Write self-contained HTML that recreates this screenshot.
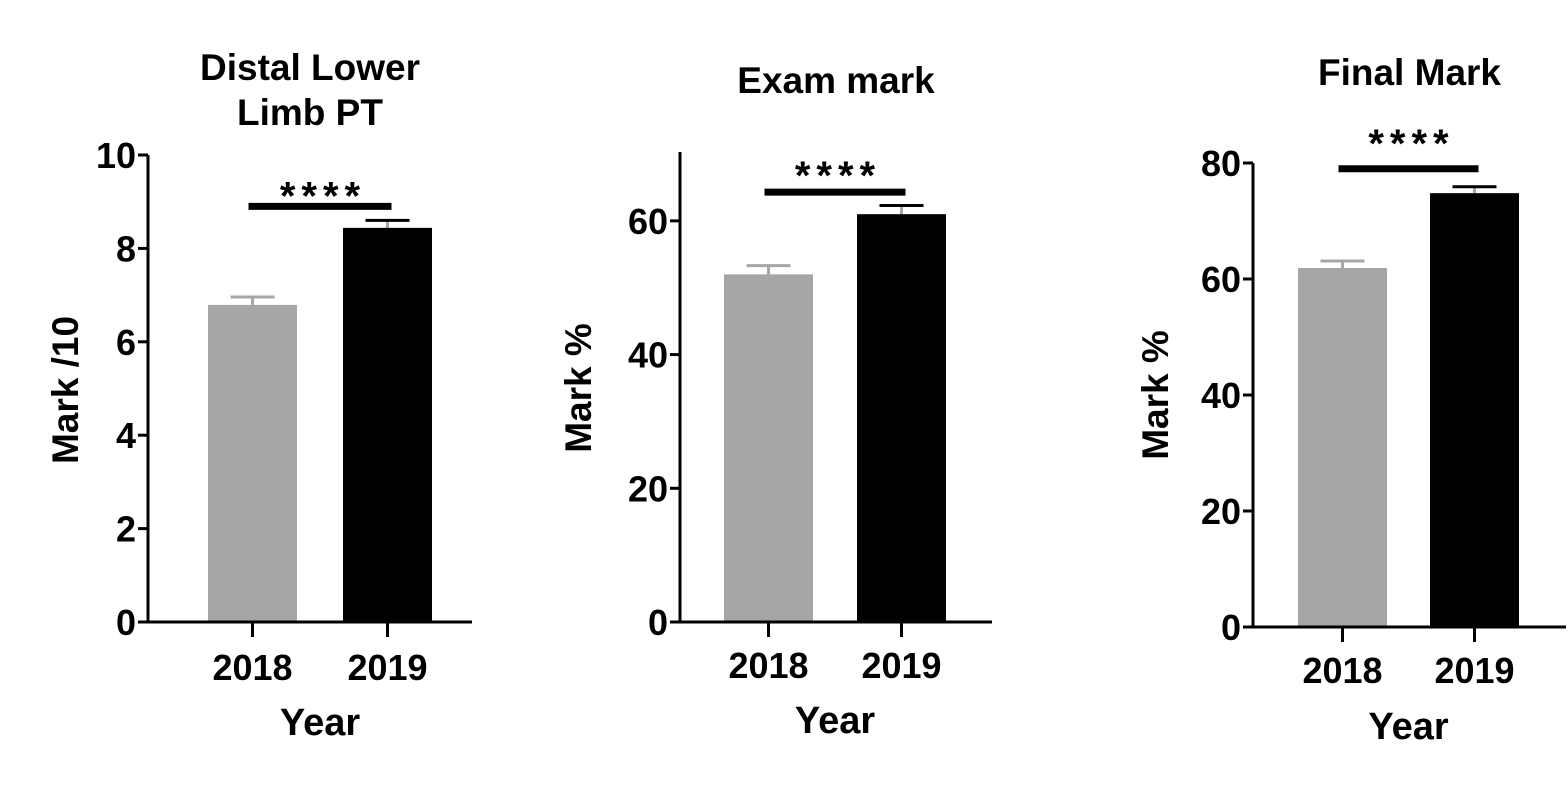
<!DOCTYPE html>
<html><head><meta charset="utf-8"><style>
html,body{margin:0;padding:0;background:#fff;}
svg{display:block;font-family:"Liberation Sans",Arial,sans-serif;font-weight:bold;}
</style></head><body>
<svg id="c" width="1568" height="811" viewBox="0 0 1568 811"></svg>
<script>
const panelTitles=[["Distal Lower","Limb PT"],["Exam mark"],["Final Mark"]];
const yTitles=["Mark /10","Mark %","Mark %"];
const categories=["2018","2019"];
const meanValues=[[6.79,8.44],[52,61],[61.9,74.8]];
const errValues=[[0.17,0.16],[1.3,1.3],[1.2,1.1]];
const yTicks=[[0,2,4,6,8,10],[0,20,40,60],[0,20,40,60,80]];
const yMax=[10,70.3,80];
const sigLabels=["****","****","****"];
const sigLevel=[8.9,64.3,79];
const colors=["#a6a6a6","#000000"];
const layout=[
 {ax:148,y0:622,yTop:155,xEnd:472,bx:[208,343],bw:89,titleY:[80,125],ytx:78,yty:390,lblY:680,yearY:735,so:3},
 {ax:680,y0:622,yTop:152,xEnd:992,bx:[724,857],bw:89,titleY:[93],ytx:591,yty:388,lblY:678,yearY:733,so:-3},
 {ax:1253,y0:627,yTop:163,xEnd:1566,bx:[1298,1430],bw:89,titleY:[85],ytx:1168,yty:395,lblY:683,yearY:739,so:-12}
];
const svg=document.getElementById('c');
const NS="http://www.w3.org/2000/svg";
function mk(t,a,p){const e=document.createElementNS(NS,t);for(const k in a)e.setAttribute(k,a[k]);(p||svg).appendChild(e);return e;}
layout.forEach((L,i)=>{
 const g=mk('g',{});
 
 
 const y=v=>L.y0-(v/yMax[i])*(L.y0-L.yTop);
 const cx=j=>L.bx[j]+L.bw/2;
 panelTitles[i].forEach((t,k)=>{const e=mk('text',{x:(L.ax+L.xEnd)/2,y:L.titleY[k],'text-anchor':'middle','font-size':37,fill:'#000'},g);e.textContent=t;
  
  });
 meanValues[i].forEach((v,j)=>{
  const top=y(v),et=y(v+errValues[i][j]);
  const eb=mk('line',{x1:cx(j),x2:cx(j),y1:top,y2:et,stroke:colors[0],'stroke-width':3},g);
  
  
  const cap=mk('line',{x1:cx(j)-22,x2:cx(j)+22,y1:et,y2:et,stroke:j?'#000':colors[0],'stroke-width':3},g);
  
  
  const r=mk('rect',{x:L.bx[j],y:top,width:L.bw,height:L.y0-top,fill:colors[j]},g);
  
  
  const tk=mk('line',{x1:cx(j),x2:cx(j),y1:L.y0,y2:L.y0+15,stroke:'#000','stroke-width':3},g);
  
  
  const lb=mk('text',{x:cx(j),y:L.lblY,'text-anchor':'middle','font-size':36,fill:'#000'},g);lb.textContent=categories[j];
  
  
 });
 const ya=mk('line',{x1:L.ax,x2:L.ax,y1:L.yTop,y2:L.y0+1.5,stroke:'#000','stroke-width':3},g);
 
 
 const xa=mk('line',{x1:L.ax-1.5,x2:L.xEnd,y1:L.y0,y2:L.y0,stroke:'#000','stroke-width':3},g);
 
 
 yTicks[i].forEach(t=>{
  const tl=mk('line',{x1:L.ax-10,x2:L.ax,y1:y(t),y2:y(t),stroke:'#000','stroke-width':3},g);
  
  
  const tx=mk('text',{x:L.ax-12,y:y(t)+13,'text-anchor':'end','font-size':36,fill:'#000'},g);tx.textContent=t;
  
  
 });
 const yt=mk('text',{x:0,y:0,transform:`translate(${L.ytx},${L.yty}) rotate(-90)`,'text-anchor':'middle','font-size':37,fill:'#000'},g);yt.textContent=yTitles[i];
 
 
 const xt=mk('text',{x:(cx(0)+cx(1))/2,y:L.yearY,'text-anchor':'middle','font-size':38,fill:'#000'},g);xt.textContent="Year";
 
 
 const sy=y(sigLevel[i]);
 const sb=mk('line',{x1:cx(0)-4,x2:cx(1)+4,y1:sy,y2:sy,stroke:'#000','stroke-width':7},g);
 
 
 const st=mk('text',{x:(cx(0)+cx(1))/2+3,y:sy+L.so,'text-anchor':'middle','font-size':40,'letter-spacing':6,fill:'#000'},g);st.textContent=sigLabels[i];
 
 
});
</script>
</body></html>
